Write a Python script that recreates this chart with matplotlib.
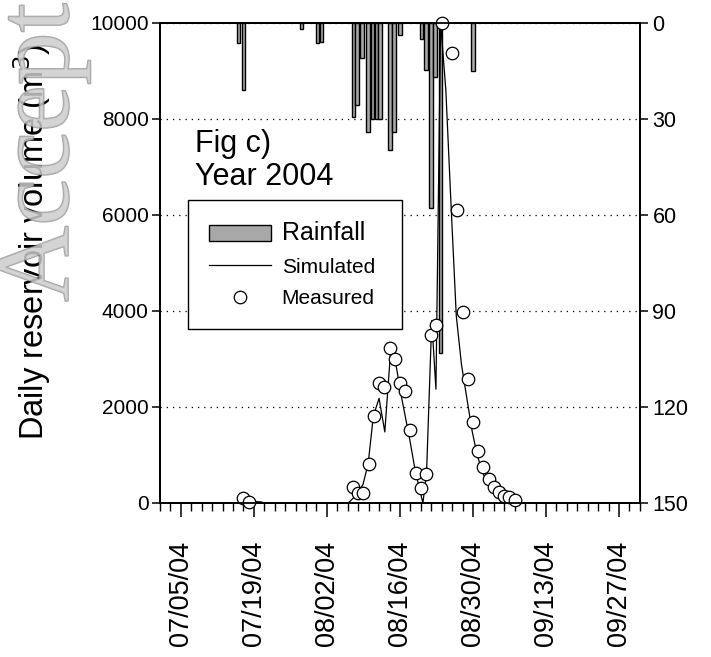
import numpy as np
import matplotlib.pyplot as plt
import matplotlib.dates as mdates
from matplotlib import patheffects
from matplotlib.ticker import FixedLocator

plt.rcParams['font.family'] = ['Liberation Sans', 'DejaVu Sans']

# all days are counted from 07/01/04
start = mdates.datestr2num('2004-07-01')

# rainfall (mm), right axis, inverted
rain_day = [15.1, 16.0, 27.1, 30.2, 31.0, 37.1, 37.8, 38.7, 39.9, 40.7, 41.5,
            42.2, 44.1, 44.9, 46.0, 50.1, 51.0, 52.0, 52.7, 53.8, 60.0]
rain_mm = [6.3, 21.0, 2.0, 6.3, 5.8, 29.5, 25.6, 11.0, 34.0, 30.0, 30.0,
           30.0, 39.6, 34.0, 3.8, 5.0, 14.8, 57.8, 16.8, 103.0, 15.0]

# measured daily reservoir volume (m3)
meas_day = [16, 17, 37, 38, 39, 40, 41, 42, 43, 44, 45, 46, 47, 48, 49, 50,
            51, 52, 53, 54, 56, 57, 58, 59, 60, 61, 62, 63, 64, 65, 66, 67, 68]
meas_vol = [110, 15, 330, 215, 200, 810, 1810, 2510, 2410, 3220, 3010, 2510,
            2330, 1520, 620, 320, 600, 3510, 3710, 10000, 9380, 6100, 3970,
            2580, 1680, 1090, 740, 490, 340, 220, 150, 120, 60]

# simulated volume (m3)
sim_day = [0, 16.8, 17.3, 19.5, 20.0, 36.1, 37.5, 38.9, 39.9, 40.9, 42.0,
           43.1, 44.2, 45.3, 46.3, 47.9, 48.9, 49.8, 50.4, 51.1, 52.1, 52.9,
           53.8, 54.8, 55.8, 56.8, 57.8, 58.8, 59.8, 60.8, 61.8, 62.8, 63.8,
           64.8, 65.8, 66.8, 67.8, 68.8, 92]
sim_vol = [0, 0, 40, 20, 0, 0, 150, 380, 810, 1810, 2180,
           1480, 3150, 2840, 2210, 1310, 690, 270, 0, 620, 3800, 2370,
           10000, 8600, 6200, 3900, 2880, 2200, 1520, 1000, 650, 400, 250,
           150, 85, 40, 10, 0, 0]

fig = plt.figure(figsize=(7.11, 6.57), dpi=100)
ax = fig.add_axes([0.225, 0.2344, 0.675, 0.7306])
ax2 = ax.twinx()

bars = ax2.bar(start + np.array(rain_day), rain_mm, width=0.67, color='#a8a8a8',
               edgecolor='black', linewidth=1.0, label='Rainfall')
ax2.set_ylim(150, 0)
ax2.set_yticks([0, 30, 60, 90, 120, 150])
ax2.yaxis.grid(True, linestyle=(0, (1, 4)), color='black', linewidth=0.9)
ax2.set_axisbelow(True)

ax.set_zorder(ax2.get_zorder() + 1)
ax.patch.set_visible(False)
line, = ax.plot(start + np.array(sim_day), sim_vol, '-', color='black', lw=0.9,
                label='Simulated')
pts, = ax.plot(start + np.array(meas_day), meas_vol, 'o', mfc='white', mec='black',
               ms=9, mew=0.9, label='Measured', clip_on=False)

ax.set_ylim(0, 10000)
ax.set_yticks([0, 2000, 4000, 6000, 8000, 10000])
ax.set_xlim(start, start + 92)

major = start + 4 + 14 * np.arange(7)
minor = start + 2 * np.arange(47)
ax.xaxis.set_major_locator(FixedLocator(major))
ax.xaxis.set_minor_locator(FixedLocator(minor))
ax.xaxis.set_major_formatter(mdates.DateFormatter('%m/%d/%y'))

ax.tick_params(axis='y', direction='out', length=6, width=1.1, labelsize=15, pad=2)
ax2.tick_params(axis='y', direction='out', length=6, width=1.1, labelsize=15.5, pad=3)
ax.tick_params(axis='x', which='major', direction='out', length=10, width=1.1,
               labelsize=19.5, pad=17, labelrotation=90)
ax.tick_params(axis='x', which='minor', direction='out', length=6, width=1.0)

for a in (ax, ax2):
    for s in a.spines.values():
        s.set_linewidth(1.3)

ax.set_ylabel('Daily reservoir volume (m$^3$)', fontsize=23.5)
ax.yaxis.set_label_coords(-0.222, 0.545)

ax.text(0.073, 0.78, 'Fig c)\nYear 2004', transform=ax.transAxes, fontsize=22,
        va='top', ha='left', linespacing=1.15)

leg = ax.legend([bars, line, pts], ['Rainfall', 'Simulated', 'Measured'],
                loc='upper left', bbox_to_anchor=(0.058, 0.367, 0.446, 0.264),
                mode='expand', fontsize=15,
                frameon=True, fancybox=False, framealpha=1, edgecolor='black',
                handlelength=3.0, handleheight=0.8, handletextpad=0.5,
                borderpad=1.0, labelspacing=0.6, borderaxespad=0)
leg.get_frame().set_linewidth(1.0)
leg.get_texts()[0].set_fontsize(18)

wm = fig.text(68 / 711, 1 - 302 / 657, 'Accepted', rotation=90, rotation_mode='anchor',
              ha='left', va='baseline', fontsize=76, family='Liberation Serif',
              color='#cccccc', alpha=0.6, zorder=10)
wm.set_path_effects([patheffects.withStroke(linewidth=1.2, foreground='#707070')])

fig.savefig('out.png', dpi=100)
